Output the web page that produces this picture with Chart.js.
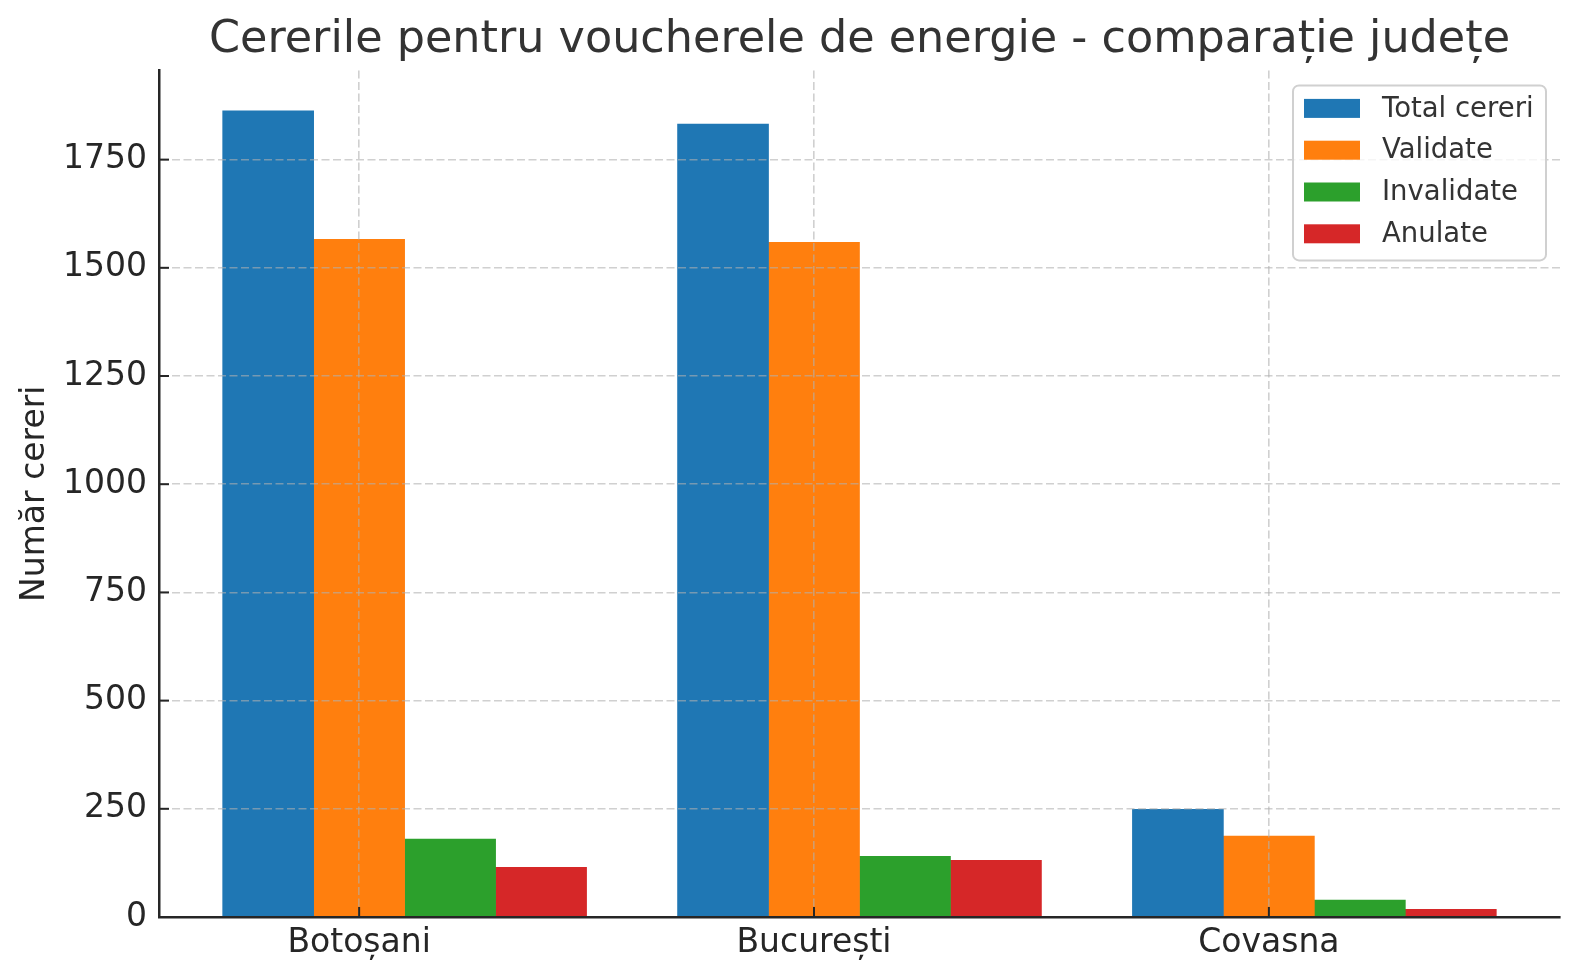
<!DOCTYPE html>
<html>
<head>
<meta charset="utf-8">
<script src="https://cdn.jsdelivr.net/npm/chart.js@4"></script>
<style>
  html, body { margin: 0; padding: 0; background: #fff; }
  #wrap { width: 1580px; height: 980px; position: relative; }
</style>
</head>
<body>
<div id="wrap"><canvas id="chart"></canvas></div>
<script>
// judete comparate
var judete = ['Botoșani', 'București', 'Covasna'];
var serii = ['Total cereri', 'Validate', 'Invalidate', 'Anulate'];
var totalCereri = [1863, 1832, 249];
var validate = [1566, 1559, 187];
var invalidate = [180, 140, 39];
var anulate = [115, 131, 18];
var yTicks = [0, 250, 500, 750, 1000, 1250, 1500, 1750];
var culori = ['#1f77b4', '#ff7f0e', '#2ca02c', '#d62728'];

var valori = [totalCereri, validate, invalidate, anulate];
var latime = 0.2; // latimea unei bare, in unitati de categorie
var yMax = Math.max.apply(null, totalCereri) * 1.05;

var datasets = [];
for (let k = 0; k < serii.length; k++) {
  datasets.push({
    label: serii[k],
    data: valori[k].map((v, i) => ({ x: i + (k - 1) * latime, y: v })),
    backgroundColor: culori[k],
    borderWidth: 0,
    grouped: false,
    categoryPercentage: 1,
    barPercentage: 1,
  });
}

var gridColor = 'rgba(176,176,176,0.6)';
var axisColor = '#262626';

// ticks spre interior + legenda in coltul din dreapta sus
var extras = {
  id: 'extras',
  afterDraw(chart) {
    const ctx = chart.ctx, area = chart.chartArea;
    const xs = chart.scales.x, ys = chart.scales.y;
    ctx.save();
    ctx.strokeStyle = axisColor;
    ctx.lineWidth = 2;
    ys.ticks.forEach(t => {
      const py = ys.getPixelForValue(t.value);
      ctx.beginPath();
      ctx.moveTo(area.left, py);
      ctx.lineTo(area.left + 10, py);
      ctx.stroke();
    });
    xs.ticks.forEach(t => {
      const px = xs.getPixelForValue(t.value);
      ctx.beginPath();
      ctx.moveTo(px, area.bottom);
      ctx.lineTo(px, area.bottom - 10);
      ctx.stroke();
    });

    // legenda
    const bx = area.right - 267, by = area.top + 15, bw = 253, bh = 175, r = 6;
    ctx.beginPath();
    ctx.moveTo(bx + r, by);
    ctx.lineTo(bx + bw - r, by);
    ctx.arcTo(bx + bw, by, bx + bw, by + r, r);
    ctx.lineTo(bx + bw, by + bh - r);
    ctx.arcTo(bx + bw, by + bh, bx + bw - r, by + bh, r);
    ctx.lineTo(bx + r, by + bh);
    ctx.arcTo(bx, by + bh, bx, by + bh - r, r);
    ctx.lineTo(bx, by + r);
    ctx.arcTo(bx, by, bx + r, by, r);
    ctx.closePath();
    ctx.fillStyle = 'rgba(255,255,255,0.8)';
    ctx.fill();
    ctx.strokeStyle = '#d0d0d0';
    ctx.lineWidth = 2;
    ctx.stroke();

    ctx.font = '27.5px "DejaVu Sans"';
    ctx.textBaseline = 'middle';
    ctx.textAlign = 'left';
    chart.data.datasets.forEach((ds, i) => {
      const cy = by + 23 + i * 41.8;
      ctx.fillStyle = ds.backgroundColor;
      ctx.fillRect(bx + 11, cy - 9.5, 56, 19);
      ctx.fillStyle = '#333333';
      ctx.fillText(ds.label, bx + 89, cy + 1);
    });
    ctx.restore();
  }
};

new Chart(document.getElementById('chart'), {
  type: 'bar',
  data: { datasets: datasets },
  options: {
    responsive: true,
    maintainAspectRatio: false,
    animation: false,
    devicePixelRatio: 1,
    layout: { padding: { left: 0, right: 20, top: 0, bottom: 0 } },
    plugins: {
      legend: { display: false },
      tooltip: { enabled: false },
      title: {
        display: true,
        fullSize: false,
        text: 'Cererile pentru voucherele de energie - comparație județe',
        color: '#333333',
        font: { family: 'DejaVu Sans', size: 44.5, weight: 'normal' },
        padding: { top: 14, bottom: 3 }
      }
    },
    scales: {
      x: {
        type: 'linear',
        min: -0.44,
        max: 2.64,
        offset: false,
        afterBuildTicks: (s) => { s.ticks = judete.map((_, i) => ({ value: i })); },
        afterFit: (s) => { s.height = 63; },
        ticks: {
          autoSkip: false,
          maxRotation: 0,
          padding: 7,
          color: axisColor,
          font: { family: 'DejaVu Sans', size: 33 },
          callback: (v) => judete[v]
        },
        grid: { offset: false, color: gridColor, lineWidth: 1.6, drawTicks: false, z: 1 },
        border: { display: true, color: axisColor, width: 2.5, dash: [8, 3.5], z: 1 }
      },
      y: {
        min: 0,
        max: yMax,
        afterBuildTicks: (s) => { s.ticks = yTicks.map(v => ({ value: v })); },
        afterFit: (s) => { s.width = 159; },
        ticks: {
          padding: 12,
          color: axisColor,
          font: { family: 'DejaVu Sans', size: 33 },
          callback: (v) => String(v)
        },
        title: {
          display: true,
          text: 'Număr cereri',
          color: axisColor,
          font: { family: 'DejaVu Sans', size: 33 },
          padding: { top: 16, bottom: 4 }
        },
        grid: {
          color: (c) => (c.tick && c.tick.value === 0) ? 'rgba(0,0,0,0)' : gridColor,
          lineWidth: 1.6, drawTicks: false, z: 1
        },
        border: { display: true, color: axisColor, width: 2.5, dash: [8, 3.5], z: 1 }
      }
    }
  },
  plugins: [extras]
});
</script>
</body>
</html>
